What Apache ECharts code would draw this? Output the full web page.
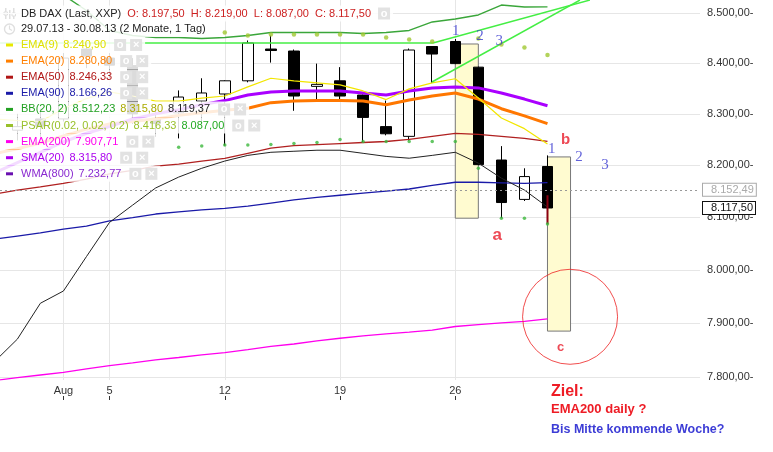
<!DOCTYPE html>
<html><head><meta charset="utf-8">
<script src="https://cdn.jsdelivr.net/npm/echarts@6/dist/echarts.min.js"></script>
<style>html,body{margin:0;padding:0;background:#fff}#c{width:773px;height:452px}</style>
</head><body><div id="c"></div>
<script>
// ---- data ----
const dates = ['29.07','30.07','31.07','01.08','02.08','05.08','06.08','07.08','08.08','09.08','12.08','13.08','14.08','15.08','16.08','19.08','20.08','21.08','22.08','23.08','26.08','27.08','28.08','29.08','30.08','02.09','03.09','04.09','05.09','06.09','09.09'];
const xTickIdx = [0,3,5,10,15,20];
const xTickLabels = ['29','Aug','5','12','19','26'];
const yTicks = [7800,7900,8000,8100,8200,8300,8400,8500];

const openP  = [8290,8268,8290,8290,8428,8410,8395,8290,8302,8325,8339,8365,8428,8424,8354,8365,8337,8275,8256,8433,8443,8392,8210,8134,8197.5];
const closeP = [8271,8275,8276,8410,8414,8396,8300,8281,8333,8341,8365,8440,8425,8335,8358,8335,8293,8261,8426,8418,8399,8201,8128,8178,8117.5];
const lowP   = [8240,8248,8255,8285,8390,8370,8280,8255,8252,8283,8238,8362,8401,8306,8327,8327,8245,8258,8248,8361,8398,8200,8098,8131,8087];
const highP  = [8300,8300,8310,8420,8440,8420,8410,8310,8346,8370,8366,8445,8455,8427,8399,8392,8338,8326,8429,8434,8448,8393,8237,8194,8219];

const ema9   = [8290,8287,8285,8310,8330,8343,8335,8325,8325,8331,8335,8353,8370,8365,8361,8357,8345,8328,8349,8361,8369,8331,8292,8271,8240.9];
const ema20  = [8222,8232,8243,8257,8270,8280,8285,8290,8297,8302,8307,8311,8322,8325,8326,8326,8325,8318,8327,8335,8341,8329,8310,8296,8280.8];
const sma20  = [8185,8205,8225,8245,8262,8275,8290,8300,8308,8318,8326,8337,8343,8345,8345,8345,8341,8337,8345,8351,8353,8351,8341,8329,8315.8];
const ema50  = [8144,8152,8158,8165,8173,8183,8190,8198,8202,8208,8213,8223,8233,8238,8240,8242,8244,8246,8250,8256,8262,8260,8256,8252,8246.3];
const ema90  = [8058,8064,8070,8077,8083,8093,8099,8106,8110,8114,8117,8121,8127,8133,8138,8142,8146,8150,8154,8161,8167,8167,8166,8165,8166.3];
const ema200 = [7793.5,7798.7,7803.7,7808.7,7815,7821,7826,7831.5,7836,7840.7,7845,7850.6,7856.5,7861,7866.8,7871.7,7876,7880,7883,7887,7893.6,7897,7900.4,7903,7907.7];
const bbUpper = [8565,8558,8548,8536,8505,8465,8455,8451,8451,8449,8451,8455,8461,8461,8461,8461,8459,8461,8465,8482,8488,8496,8516,8512,8512.2];
const bbLower = [7828,7870,7937,7960,8025,8090,8123,8156,8177,8194,8208,8219,8225,8227,8229,8229,8223,8217,8213.5,8219,8225,8204,8175,8152,8119.4];
const psarUp = [null,null,null,null,null,null,null,null,null,null,8461,8455,8457,8457,8457,8457,8457,8451,8447,8443,null,8449,8437,8431,8416.3];
const psarDn = [null,null,null,null,null,null,null,null,8235,8237,8239,8239,8240,8242,8244,8250,8246,8246,8246,8246,8246,8194,8098,8098,8087];

// annotations
const waveBoxes = [[20,8438,21,8098],[24,8216,25,7885]];
const trendLines = [[[0.25,8440],[19.03,8440]],[[19.03,8440],[25.84,8526]],[[18.99,8362.6],[25.41,8526]]];
const waveLabels = [[20.02,8464,'1'],[21.07,8454,'2'],[21.91,8443,'3'],[24.18,8232,'1'],[25.37,8215,'2'],[26.5,8201,'3']];
const abcLabels = [[21.82,8066,'a',17],[24.79,8250,'b',15],[24.57,7855,'c',13]];
const targetCircle = [[24.98,7911.7]];
const lastBar = [[24,8142,8087,8087,8142]];
const refLevel = 8152.49, lastClose = 8117.5;

// ---- helpers ----
function de(v){const s=v.toFixed(2).split('.');return s[0].replace(/\B(?=(\d{3})+(?!\d))/g,'.')+','+s[1];}
const X_MIN=0.248, X_MAX=0.248+700/23.05;
const Y_MIN=7794.5, Y_MAX=8526.1;
const pts = arr => arr.map((v,i)=>[i,v]);
const FF='Liberation Sans, Arial, sans-serif';

const candleData = openP.map((o,i)=>[i,o,closeP[i],lowP[i],highP[i]]);
const bandDiff = bbUpper.map((u,i)=>[i,u-bbLower[i]]);

const lineS = (name,data,color,w,z)=>({type:'line',name,data:pts(data),symbol:'none',silent:true,z:z||3,
  lineStyle:{color,width:w},itemStyle:{color}});

// legend rows
const rows = [
 {c:'#e8e800',parts:[['EMA(9)','#e0e000'],['8.240,90','#e0e000']]},
 {c:'#ff7f00',parts:[['EMA(20)','#ff7f00'],['8.280,80','#ff7f00']]},
 {c:'#b01515',parts:[['EMA(50)','#b01515'],['8.246,33','#b01515']]},
 {c:'#1a1aa8',parts:[['EMA(90)','#1a1aa8'],['8.166,26','#1a1aa8']]},
 {c:'#22a022',parts:[['BB(20, 2)','#22a022'],['8.512,23','#22a022'],['8.315,80','#aaaa00'],['8.119,37','#222']]},
 {c:'#99c02a',parts:[['PSAR(0.02, 0.02, 0.2)','#99c02a'],['8.416,33','#99c02a'],['8.087,00','#22aa22']]},
 {c:'#ff00ee',parts:[['EMA(200)','#ff00ee'],['7.907,71','#ff00ee']]},
 {c:'#aa00ee',parts:[['SMA(20)','#aa00ee'],['8.315,80','#aa00ee']]},
 {c:'#6a10b0',parts:[['WMA(800)','#8a2ad0'],['7.232,77','#8a2ad0']]}
];
const btnStyle={width:12,height:12,lineHeight:12,backgroundColor:'#e2e2e2',fill:'#fff',align:'center',fontSize:11,fontWeight:'bold',fontFamily:FF};
const graphics=[];
rows.forEach((r,k)=>{
  const rich={mk:{width:7,height:3,backgroundColor:r.c},sp8:{width:8},sp5:{width:5},sp8b:{width:8},g4:{width:4},b:btnStyle};
  let t='{mk| }{sp8| }';
  r.parts.forEach((p,j)=>{rich['p'+j]={fill:p[1],fontSize:11,fontFamily:FF}; t+=(j?'{sp5| }':'')+'{p'+j+'|'+p[0]+'}';});
  t+='{sp8b| }{b|o}{g4| }{b|×}';
  graphics.push({type:'text',x:0,y:45+k*16.1,z:100,style:{text:t,rich,verticalAlign:'middle',backgroundColor:'rgba(255,255,255,0.86)',padding:[2,3,2,6],lineHeight:12}});
});
// header rows
graphics.push({type:'text',x:0,y:13.5,z:100,style:{text:'{sp| }{t|DB DAX (Last, XXP)}{s| }{r|O: 8.197,50  H: 8.219,00  L: 8.087,00  C: 8.117,50}{s2| }{b|o}',verticalAlign:'middle',backgroundColor:'rgba(255,255,255,0.86)',padding:[2,3,2,0],
  rich:{sp:{width:21},t:{fill:'#222',fontSize:11,fontFamily:FF},s:{width:6},r:{fill:'#cc1f1f',fontSize:11,fontFamily:FF},s2:{width:7},b:btnStyle}}});
graphics.push({type:'text',x:0,y:29,z:100,style:{text:'{sp| }{t|29.07.13 - 30.08.13 (2 Monate, 1 Tag)}',verticalAlign:'middle',backgroundColor:'rgba(255,255,255,0.86)',padding:[2,3,2,0],
  rich:{sp:{width:21},t:{fill:'#222',fontSize:11,fontFamily:FF}}}});
// icons
graphics.push({type:'group',z:101,children:[
  {type:'rect',shape:{x:5,y:8,width:1.5,height:11},style:{fill:'#222'}},
  {type:'rect',shape:{x:9,y:10,width:1.5,height:9},style:{fill:'#222'}},
  {type:'rect',shape:{x:13,y:8,width:1.5,height:11},style:{fill:'#222'}},
  {type:'rect',shape:{x:4,y:12,width:3.5,height:3},style:{fill:'#fff',stroke:'#222',lineWidth:1}},
  {type:'rect',shape:{x:12,y:13,width:3.5,height:3},style:{fill:'#fff',stroke:'#222',lineWidth:1}},
  {type:'circle',shape:{cx:9.5,cy:29,r:5},style:{fill:'none',stroke:'#222',lineWidth:1.4}},
  {type:'polyline',shape:{points:[[9.5,25.5],[9.5,29],[12,30.5]]},style:{fill:'none',stroke:'#222',lineWidth:1.2}}
]});
// target notes
graphics.push({type:'text',x:551,y:392,z:100,style:{text:'Ziel:',fill:'#ee1c25',font:'bold 16px '+FF,verticalAlign:'middle'}});
graphics.push({type:'text',x:551,y:409,z:100,style:{text:'EMA200 daily ?',fill:'#ee1c25',font:'bold 13px '+FF,verticalAlign:'middle'}});
graphics.push({type:'text',x:551,y:430,z:100,style:{text:'Bis Mitte kommende Woche?',fill:'#3d3dd6',font:'bold 12.5px '+FF,verticalAlign:'middle'}});

const tag = (val,txt,col,bcol,showLine)=>({yAxis:val,lineStyle:{color:showLine?'#999':'rgba(0,0,0,0)',type:[2,3],width:1},
  label:{show:true,position:'end',distance:3,formatter:txt,color:col,fontSize:11,fontFamily:FF,backgroundColor:'#fff',borderColor:bcol,borderWidth:1,padding:[1,2,0,8]}});

const option = {
  animation:false,
  backgroundColor:'#fff',
  grid:{left:0,right:73,top:0,bottom:72},
  xAxis:[
    {type:'value',min:X_MIN,max:X_MAX,axisLine:{show:false},axisTick:{show:false,customValues:xTickIdx},
     axisLabel:{customValues:xTickIdx,formatter:v=>xTickLabels[xTickIdx.indexOf(v)],color:'#333',fontSize:11,fontFamily:FF,margin:5},
     splitLine:{show:true,lineStyle:{color:'#e6e6e6'}}},
    {type:'value',min:X_MIN,max:X_MAX,position:'bottom',offset:16,axisLine:{show:false},
     axisTick:{show:true,customValues:xTickIdx,length:4,lineStyle:{color:'#333'}},axisLabel:{show:false},splitLine:{show:false}}
  ],
  yAxis:{type:'log',logBase:10,position:'right',min:Y_MIN,max:Y_MAX,axisLine:{show:false},axisTick:{show:false,customValues:yTicks},
     axisLabel:{customValues:yTicks,formatter:v=>de(v)+'-',color:'#333',fontSize:11,fontFamily:FF,margin:7},
     splitLine:{show:true,lineStyle:{color:'#e6e6e6'}}},
  series:[
    {type:'line',data:pts(bbLower),stack:'bb',symbol:'none',silent:true,z:1,lineStyle:{opacity:0},
     markArea:{silent:true,itemStyle:{color:'#fffbd0',borderColor:'#777',borderWidth:1},
       data:waveBoxes.map(b=>[{coord:[b[0],b[1]]},{coord:[b[2],b[3]]}])}},
    {type:'line',data:bandDiff,stack:'bb',symbol:'none',silent:true,z:1,lineStyle:{opacity:0},areaStyle:{color:'rgba(0,220,0,0.1)',opacity:1}},
    {type:'candlestick',data:candleData,encode:{x:0,y:[1,2,3,4]},barWidth:11,z:2,silent:true,
     itemStyle:{color:'#fff',color0:'#000',borderColor:'#000',borderColor0:'#000',borderWidth:1},
     markLine:{silent:true,symbol:'none',data:[tag(refLevel,de(refLevel),'#aaa','#aaa',true),tag(lastClose,de(lastClose),'#111','#111',false)]}},
    {type:'candlestick',data:lastBar,encode:{x:0,y:[1,2,3,4]},barWidth:3,z:4,silent:true,
     itemStyle:{color:'#8b0010',color0:'#8b0010',borderColor:'#8b0010',borderColor0:'#8b0010',borderWidth:0}},
    lineS('EMA200',ema200,'#ff00ee',1.3),
    lineS('EMA90',ema90,'#1a1aa8',1.3),
    lineS('EMA50',ema50,'#b02020',1.3),
    lineS('BBlow',bbLower,'#222',1),
    lineS('BBup',bbUpper,'#3aa63a',1.4),
    {type:'line',data:[],silent:true,z:3,markLine:{silent:true,symbol:'none',lineStyle:{color:'#44ee44',width:1.5,type:'solid'},label:{show:false},
      data:trendLines.map(l=>[{coord:l[0]},{coord:l[1]}])}},
    lineS('EMA20',ema20,'#ff7700',3),
    lineS('SMA20',sma20,'#aa00ff',3),
    lineS('EMA9',ema9,'#f2e600',1.2,4),
    {type:'scatter',data:pts(psarUp),symbolSize:4.5,silent:true,z:5,itemStyle:{color:'#a0c832'}},
    {type:'scatter',data:pts(psarDn),symbolSize:3.5,silent:true,z:5,itemStyle:{color:'#3cb83c'}},
    {type:'scatter',data:targetCircle,symbolSize:95,silent:true,z:6,itemStyle:{color:'rgba(0,0,0,0)',borderColor:'#ee2222',borderWidth:1}},
    {type:'scatter',data:waveLabels,symbolSize:0,silent:true,z:7,
     label:{show:true,position:'inside',formatter:p=>p.value[2],color:'#3a3ad0',fontSize:15,fontFamily:'Liberation Serif, serif'}},
    {type:'scatter',data:abcLabels.map(a=>({value:[a[0],a[1],a[2]],label:{fontSize:a[3]}})),symbolSize:0,silent:true,z:7,
     label:{show:true,position:'inside',formatter:p=>p.value[2],color:'#e81c2a',fontWeight:'bold',fontFamily:FF}}
  ],
  graphic:graphics
};
const chart = echarts.init(document.getElementById('c'),null,{renderer:'canvas'});
chart.setOption(option);
</script></body></html>
